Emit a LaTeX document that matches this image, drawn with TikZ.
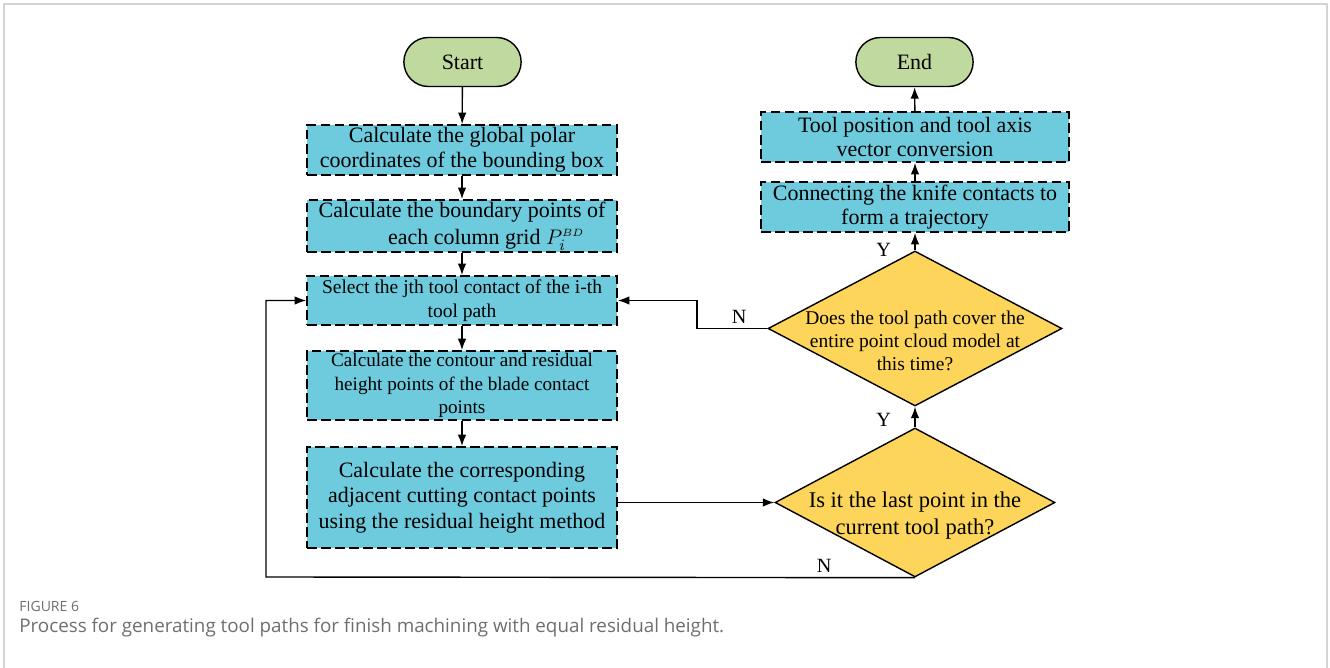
\documentclass[tikz,border=0pt]{standalone}
\usepackage{fontspec}
\setmainfont{Liberation Serif}
\newfontfamily\capfont{Open Sans}
\usepackage{tikz}
\usetikzlibrary{arrows.meta}
\usetikzlibrary{shapes}
\usetikzlibrary{calc}
\definecolor{startgreen}{RGB}{192,217,158}
\definecolor{procblue}{RGB}{110,203,221}
\definecolor{decyellow}{RGB}{252,213,90}
\definecolor{framegray}{RGB}{212,212,212}
\definecolor{capgray}{RGB}{110,110,110}

\begin{document}
\begin{tikzpicture}[x=0.02cm, y=-0.02cm]
      \useasboundingbox (0,0) rectangle (1330,668);
      \draw[framegray, line width=1.2pt] (4,668) -- (4,4) -- (1327,4) -- (1327,668);
      \begin{scope}[every node/.style={rounded rectangle, draw=black, line width=0.8pt, fill=startgreen,
          minimum width=2.58cm, minimum height=0.98cm, font=\fontsize{12.5}{14}\selectfont}]
        \node (start) at (462.5,62) {Start};
        \node (end)   at (914.5,62) {End};
      \end{scope}
      \begin{scope}[every node/.style={rectangle, draw=black, line width=1pt, dash pattern=on 5.5pt off 2.5pt,
          fill=procblue, align=center, inner sep=1pt, minimum width=6.2cm, font=\fontsize{12.5}{14}\selectfont}]
        \node[minimum height=1cm] (b1) at (462,150) {Calculate the global polar\\coordinates of the bounding box};
        \node[minimum height=1cm, font=\fontsize{12.5}{15.6}\selectfont] (b2) at (462,226)
          {Calculate the boundary points of\\\hspace*{2.2em}each column grid $P_i^{\scriptscriptstyle BD}$};
        \node[minimum height=0.98cm, font=\fontsize{11.1}{13.6}\selectfont] (b3) at (462,300.5) {Select the jth tool contact of the i-th\\tool path};
        \node[minimum height=1.38cm, font=\fontsize{10.9}{13.2}\selectfont] (b4) at (462,385.5) {Calculate the contour and residual\\height points of the blade contact\\points};
        \node[minimum height=2.02cm, font=\fontsize{12.5}{14.5}\selectfont] (b5) at (462,497.5) {Calculate the corresponding\\adjacent cutting contact points\\using the residual height method};
        \node[minimum width=6.16cm, minimum height=1cm] (r1) at (915,137) {Tool position and tool axis\\vector conversion};
        \node[minimum width=6.16cm, minimum height=1cm] (r2) at (915,207) {Connecting the knife contacts to\\form a trajectory};
      \end{scope}
      \begin{scope}[every node/.style={diamond, aspect=1.9, draw=black, line width=0.8pt, fill=decyellow, align=center,
          inner xsep=-18pt, inner ysep=-6pt}]
        \node[minimum width=5.88cm, minimum height=3.1cm, font=\fontsize{11.1}{13}\selectfont] (d1) at (915,328.5)
          {\strut\\Does the tool path cover the\\entire point cloud model at\\this time?};
        \node[minimum width=5.6cm, minimum height=2.98cm, font=\fontsize{12.8}{15.3}\selectfont] (d2) at (915,502.5)
          {\strut\\[-2.5pt]Is it the last point in the\\current tool path?};
      \end{scope}
      \coordinate (nback) at (266,577);
      \coordinate (nfwd) at (697,328.5);
      \begin{scope}[every path/.style={draw=black, line width=0.8pt, >={Latex[length=6.5pt,width=4.8pt]}},
          every node/.style={font=\fontsize{11.5}{13}\selectfont}]
        \draw[->] (start) -- (b1);
        \draw[->] (b1) -- (b2);
        \draw[->] (b2) -- (b3);
        \draw[->] (b3) -- (b4);
        \draw[->] (b4) -- (b5);
        \draw[->] (b5.east |- d2.west) -- (d2.west);
        \draw[->] (d2.south) -- node[pos=0.14, above=-1pt] (nlow) {N} (nback) |- (b3.west);
        \draw[->] (d1.west) -- node[pos=0.4, above=-1pt] (nhigh) {N} (nfwd) |- (b3.east);
        \draw[->] (d2.north) -- node[pos=0.36, left=10pt] (ylow) {Y} (d1.south);
        \draw[->] (d1.north) -- node[pos=0.05, left=10pt] (yhigh) {Y} (r2.south);
        \draw[->] (r2) -- (r1);
        \draw[->] (r1) -- (end);
      \end{scope}
      \node[anchor=west, inner sep=0pt, text=capgray, font=\capfont\fontsize{8}{10}\selectfont] (figlabel) at (19,606) {FIGURE 6};
      \node[anchor=west, inner sep=0pt, text=capgray, font=\capfont\fontsize{10.7}{12}\selectfont] (figcaption) at (19,628)
        {Process for generating tool paths for finish machining with equal residual height.};
    \end{tikzpicture}
\end{document}
